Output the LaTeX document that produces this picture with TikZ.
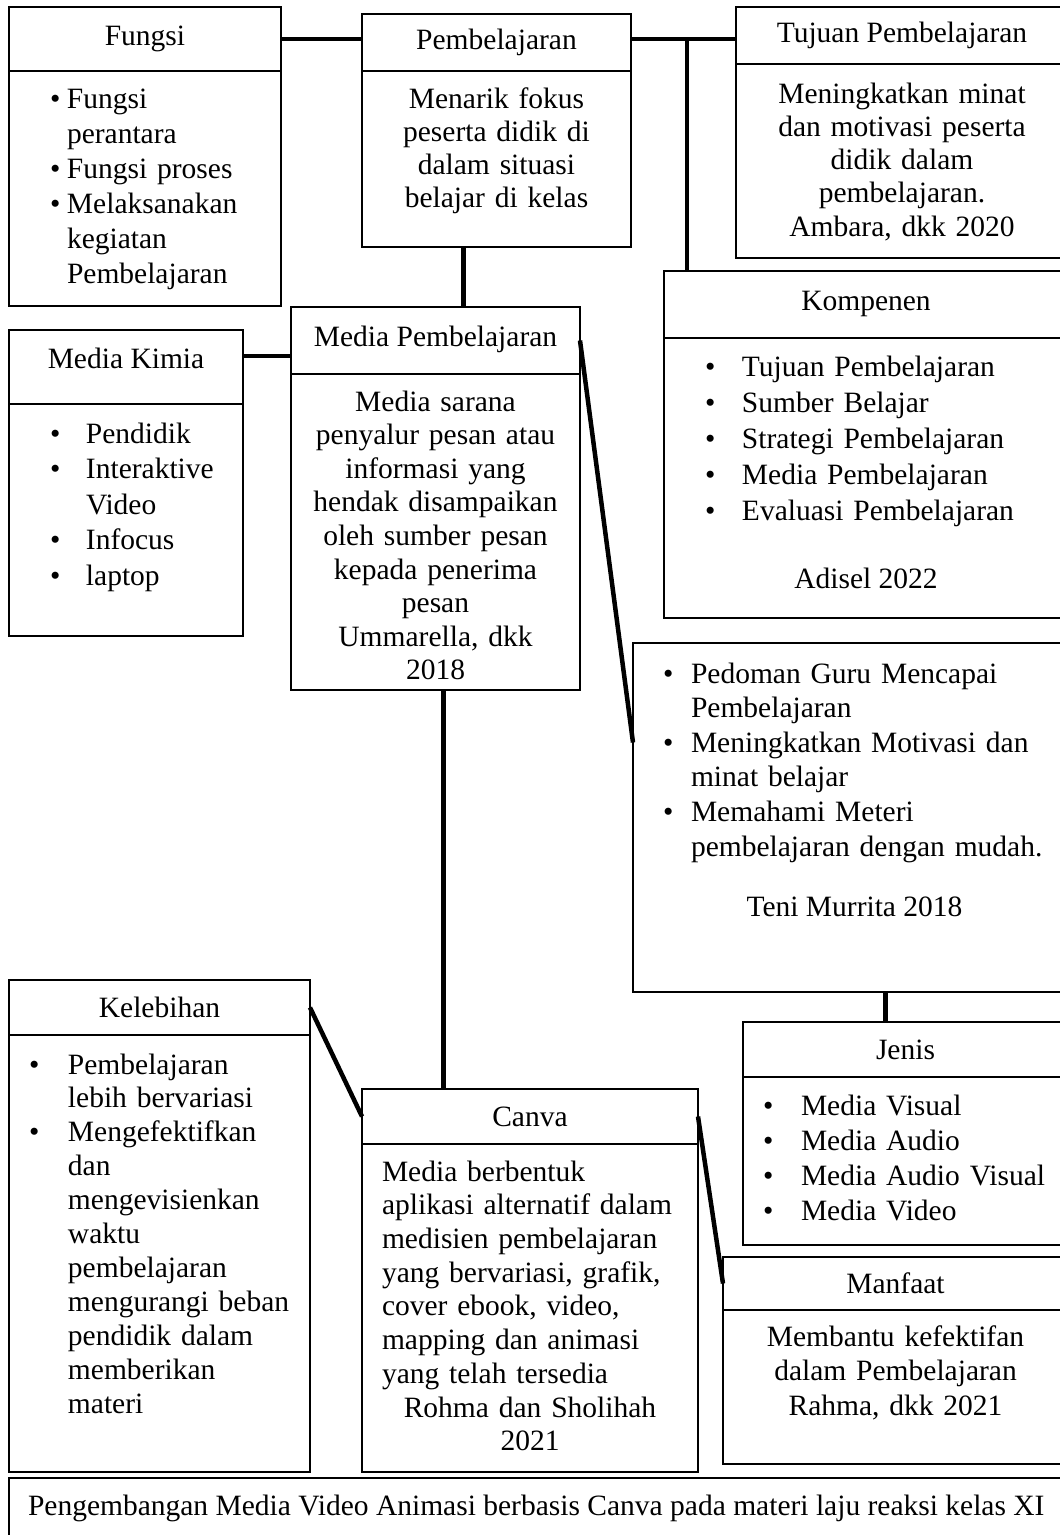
\documentclass[tikz,border=0pt]{standalone}
\usepackage{fontspec}
\setmainfont{Liberation Serif}
\usetikzlibrary{positioning}

\newcommand{\fs}[1]{\fontsize{29.5pt}{#1}\selectfont}
\newcommand{\bl}[1]{\makebox[#1][l]{\textbullet}}
\newcommand{\bi}[1]{\hspace*{#1}}

\begin{document}
\begin{tikzpicture}[
      x=1pt, y=-1pt,
      every node/.style={font=\fs{34pt}},
      boxline/.style={draw, line width=1.3pt, inner sep=0pt, outer sep=0pt, fill=white},
      head/.style={boxline, anchor=north west, align=center},
      body/.style={boxline, below=0pt of #1},
      txt/.style={inner sep=0pt, outer sep=0pt},
      link/.style={line width=4.5pt},
    ]
    \path[use as bounding box, fill=white] (0,0) rectangle (1060,1535);
    \clip (0,0) rectangle (1060,1535);

    \node[head, minimum width=272pt, minimum height=64pt] (fungsiH) at (9,7) {Fungsi};
    \node[body=fungsiH, minimum width=272pt, minimum height=235pt] (fungsiB) {};
    \node[head, minimum width=269pt, minimum height=57pt] (pembH) at (362,14) {Pembelajaran};
    \node[body=pembH, minimum width=269pt, minimum height=176pt] (pembB) {};
    \node[head, minimum width=332pt, minimum height=57pt] (tujuanH) at (736,7) {Tujuan Pembelajaran};
    \node[body=tujuanH, minimum width=332pt, minimum height=194pt] (tujuanB) {};
    \node[head, minimum width=404pt, minimum height=67pt, text depth=8pt] (kompH) at (664,271) {Kompenen};
    \node[body=kompH, minimum width=404pt, minimum height=280pt] (kompB) {};
    \node[head, minimum width=234pt, minimum height=74pt, text depth=18pt] (kimiaH) at (9,330) {Media Kimia};
    \node[body=kimiaH, minimum width=234pt, minimum height=232pt] (kimiaB) {};
    \node[head, minimum width=289pt, minimum height=67pt, text depth=8pt] (mediaH) at (291,307) {Media Pembelajaran};
    \node[body=mediaH, minimum width=289pt, minimum height=316pt] (mediaB) {};
    \node[head, minimum width=435pt, minimum height=349pt] (ped) at (633,643) {};
    \node[head, minimum width=325pt, minimum height=55pt] (jenisH) at (743,1022) {Jenis};
    \node[body=jenisH, minimum width=325pt, minimum height=168pt] (jenisB) {};
    \node[head, minimum width=345pt, minimum height=53pt] (manH) at (723,1257) {Manfaat};
    \node[body=manH, minimum width=345pt, minimum height=154pt] (manB) {};
    \node[head, minimum width=336pt, minimum height=55pt] (canvaH) at (362,1089) {Canva};
    \node[body=canvaH, minimum width=336pt, minimum height=328pt] (canvaB) {};
    \node[head, minimum width=301pt, minimum height=55pt] (kelH) at (9,980) {Kelebihan};
    \node[body=kelH, minimum width=301pt, minimum height=437pt] (kelB) {};
    \node[head, minimum width=1059pt, minimum height=70pt] (judul) at (9,1478) {};

    \node[txt, font=\fs{35pt}, text width=225pt, align=left, below right=37pt and 41pt of fungsiB.north west, anchor=base west] (fungsiT)
      {\bl{17pt}Fungsi\\ \bi{17pt}perantara\\ \bl{17pt}Fungsi proses\\ \bl{17pt}Melaksanakan\\ \bi{17pt}kegiatan\\ \bi{17pt}Pembelajaran};
    \node[txt, font=\fs{33.3pt}, text width=260pt, align=center, below=37pt of pembB.north, anchor=base] (pembT)
      {Menarik fokus\\ peserta didik di\\ dalam situasi\\ belajar di kelas};
    \node[txt, font=\fs{33.3pt}, text width=320pt, align=center, below=39pt of tujuanB.north, anchor=base] (tujuanT)
      {Meningkatkan minat\\ dan motivasi peserta\\ didik dalam\\ pembelajaran.\\ Ambara, dkk 2020};
    \node[txt, font=\fs{36pt}, text width=324pt, align=left, below right=38pt and 41pt of kompB.north west, anchor=base west] (kompT)
      {\bl{37pt}Tujuan Pembelajaran\\ \bl{37pt}Sumber Belajar\\ \bl{37pt}Strategi Pembelajaran\\ \bl{37pt}Media Pembelajaran\\ \bl{37pt}Evaluasi Pembelajaran};
    \node[txt, below=250pt of kompB.north, anchor=base] (kompR) {Adisel 2022};
    \node[txt, font=\fs{35.5pt}, text width=190pt, align=left, below right=39pt and 41pt of kimiaB.north west, anchor=base west] (kimiaT)
      {\bl{36pt}Pendidik\\ \bl{36pt}Interaktive\\ \bi{36pt}Video\\ \bl{36pt}Infocus\\ \bl{36pt}laptop};
    \node[txt, font=\fs{33.6pt}, text width=280pt, align=center, below=37pt of mediaB.north, anchor=base] (mediaT)
      {Media sarana\\ penyalur pesan atau\\ informasi yang\\ hendak disampaikan\\ oleh sumber pesan\\ kepada penerima\\ pesan\\ Ummarella, dkk\\ 2018};
    \node[txt, font=\fs{34.6pt}, text width=384pt, align=left, below right=40pt and 30pt of ped.north west, anchor=base west] (pedT)
      {\bl{28pt}Pedoman Guru Mencapai\\ \bi{28pt}Pembelajaran\\ \bl{28pt}Meningkatkan Motivasi dan\\ \bi{28pt}minat belajar\\ \bl{28pt}Memahami Meteri\\ \bi{28pt}pembelajaran dengan mudah.};
    \node[txt, below=273pt of ped.north, anchor=base, xshift=4pt] (pedR) {Teni Murrita 2018};
    \node[txt, font=\fs{35.3pt}, text width=290pt, align=left, below right=38pt and 20pt of jenisB.north west, anchor=base west] (jenisT)
      {\bl{38pt}Media Visual\\ \bl{38pt}Media Audio\\ \bl{38pt}Media Audio Visual\\ \bl{38pt}Media Video};
    \node[txt, font=\fs{34.5pt}, text width=330pt, align=center, below=36pt of manB.north, anchor=base] (manT)
      {Membantu kefektifan\\ dalam Pembelajaran\\ Rahma, dkk 2021};
    \node[txt, font=\fs{33.7pt}, text width=300pt, align=left, below right=37pt and 20pt of canvaB.north west, anchor=base west] (canvaT)
      {Media berbentuk\\ aplikasi alternatif dalam\\ medisien pembelajaran\\ yang bervariasi, grafik,\\ cover ebook, video,\\ mapping dan animasi\\ yang telah tersedia};
    \node[txt, font=\fs{33.7pt}, text width=300pt, align=center, below=273pt of canvaB.north, anchor=base] (canvaR)
      {Rohma dan Sholihah\\ 2021};
    \node[txt, font=\fs{33.9pt}, text width=280pt, align=left, below right=39pt and 20pt of kelB.north west, anchor=base west] (kelT)
      {\bl{39pt}Pembelajaran\\ \bi{39pt}lebih bervariasi\\ \bl{39pt}Mengefektifkan\\ \bi{39pt}dan\\ \bi{39pt}mengevisienkan\\ \bi{39pt}waktu\\ \bi{39pt}pembelajaran\\ \bi{39pt}mengurangi beban\\ \bi{39pt}pendidik dalam\\ \bi{39pt}memberikan\\ \bi{39pt}materi};
    \node[txt, below right=37pt and 19pt of judul.north west, anchor=base west] (judulT)
      {Pengembangan Media Video Animasi berbasis Canva pada materi laju reaksi kelas XI};

    \coordinate (cabang) at (687,39);
    \draw[link] (fungsiH.east) -- (fungsiH.east -| pembH.west);
    \draw[link] (pembH.east |- fungsiH.east) -- (tujuanH.west |- fungsiH.east);
    \draw[link] (cabang) -- (cabang |- kompH.north);
    \draw[link] ([xshift=-33pt]pembB.south) -- ([xshift=-33pt]pembB.south |- mediaH.north);
    \draw[link] ([yshift=11pt]kimiaH.east) -- ([yshift=11pt]kimiaH.east -| mediaH.west);
    \draw[link] (mediaH.east) -- ([yshift=75pt]ped.west);
    \draw[link] ([xshift=8pt]mediaB.south) -- ([xshift=8pt]mediaB.south |- canvaH.north);
    \draw[link] ([xshift=35pt]ped.south) -- ([xshift=35pt]ped.south |- jenisH.north);
    \draw[link] (kelH.east) -- (canvaH.west);
    \draw[link] (canvaH.east) -- (manH.west);
  \end{tikzpicture}
\end{document}
